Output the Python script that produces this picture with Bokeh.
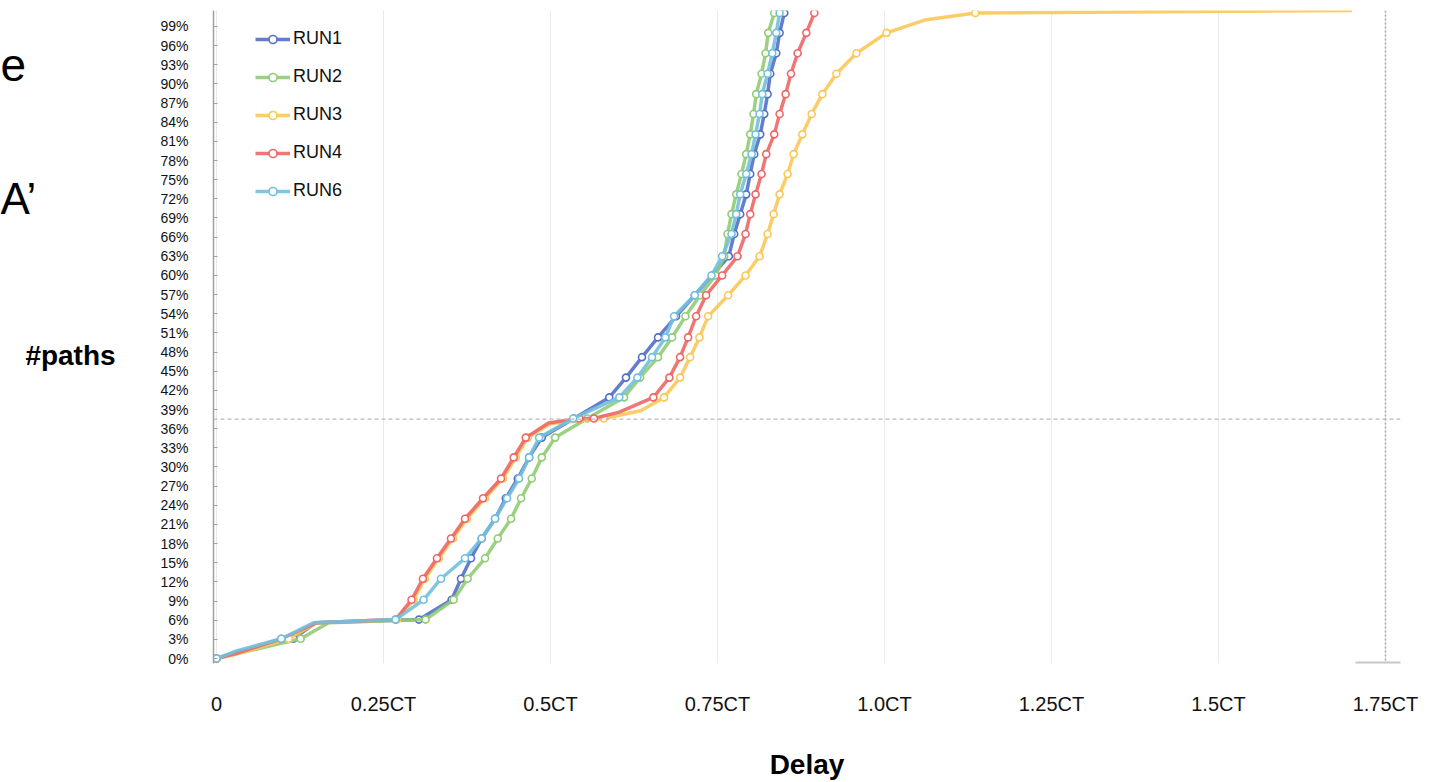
from bokeh.plotting import figure
from bokeh.layouts import row
from bokeh.models import (FixedTicker, PrintfTickFormatter, Legend, LegendItem, Span,
                          BoxAnnotation, ColumnDataSource, Range1d)
from bokeh.core.properties import value
from bokeh.embed import file_html
from bokeh.resources import INLINE

# ---------------- data ----------------
# marker levels on the y axis (percent of paths)
LEVELS = [0, 3.1, 6.1, 9.2, 12.5, 15.7, 18.8, 21.9, 25.1, 28.2, 31.5, 34.6, 37.6,
          40.9, 44.0, 47.2, 50.3, 53.6, 56.9, 60.0, 63.0, 66.5, 69.6, 72.7, 75.9,
          79.0, 82.1, 85.3, 88.4, 91.6, 94.8, 98.0, 101.1]

RUN1_X = [0, 0.03, 0.115, 0.148, 0.303, 0.352, 0.366, 0.381, 0.397, 0.417, 0.433, 0.451,
          0.468, 0.487, 0.535, 0.588, 0.613, 0.637, 0.661, 0.688, 0.716, 0.742, 0.767,
          0.775, 0.784, 0.793, 0.799, 0.805, 0.814, 0.820, 0.825, 0.829, 0.838, 0.843, 0.850]
RUN1_Y = [0, 1.0, 3.1, 5.6, 6.1, 9.2, 12.5, 15.7, 18.8, 21.9, 25.1, 28.2,
          31.5, 34.6, 37.6, 40.9, 44.0, 47.2, 50.3, 53.6, 56.9, 60.0, 63.0,
          66.5, 69.6, 72.7, 75.9, 79.0, 82.1, 85.3, 88.4, 91.6, 94.8, 98.0, 101.1]

RUN2_X = [0, 0.04, 0.126, 0.168, 0.313, 0.355, 0.376, 0.402, 0.421, 0.441, 0.456, 0.472,
          0.487, 0.507, 0.555, 0.610, 0.634, 0.661, 0.682, 0.702, 0.724, 0.747, 0.760,
          0.765, 0.771, 0.778, 0.786, 0.793, 0.799, 0.804, 0.808, 0.816, 0.822, 0.826, 0.835]
RUN2_Y = [0, 1.0, 3.1, 5.6, 6.1, 9.2, 12.5, 15.7, 18.8, 21.9, 25.1, 28.2,
          31.5, 34.6, 37.6, 40.9, 44.0, 47.2, 50.3, 53.6, 56.9, 60.0, 63.0,
          66.5, 69.6, 72.7, 75.9, 79.0, 82.1, 85.3, 88.4, 91.6, 94.8, 98.0, 101.1]

RUN3_X = [0, 0.03, 0.108, 0.15, 0.27, 0.295, 0.312, 0.333, 0.354, 0.375, 0.402, 0.429,
          0.448, 0.466, 0.50, 0.580, 0.635, 0.670, 0.694, 0.709, 0.723, 0.736, 0.766,
          0.792, 0.813, 0.825, 0.834, 0.843, 0.855, 0.864, 0.877, 0.891, 0.907, 0.928,
          0.958, 1.003, 1.06, 1.136, 1.70]
RUN3_Y = [0, 0.7, 3.1, 5.6, 6.1, 9.2, 12.5, 15.7, 18.8, 21.9, 25.1, 28.2,
          31.5, 34.6, 36.8, 37.6, 38.8, 40.9, 44.0, 47.2, 50.3, 53.6, 56.9,
          60.0, 63.0, 66.5, 69.6, 72.7, 75.9, 79.0, 82.1, 85.3, 88.4, 91.6,
          94.8, 98.0, 100.0, 101.1, 101.5]

RUN4_X = [0, 0.03, 0.097, 0.15, 0.268, 0.292, 0.309, 0.330, 0.351, 0.372, 0.399, 0.426,
          0.445, 0.463, 0.497, 0.543, 0.565, 0.603, 0.654, 0.678, 0.694, 0.706, 0.718,
          0.733, 0.757, 0.780, 0.792, 0.799, 0.807, 0.816, 0.823, 0.835, 0.843, 0.852,
          0.860, 0.870, 0.883, 0.895]
RUN4_Y = [0, 0.8, 3.1, 5.6, 6.1, 9.2, 12.5, 15.7, 18.8, 21.9, 25.1, 28.2,
          31.5, 34.6, 36.9, 37.6, 37.6, 38.6, 40.9, 44.0, 47.2, 50.3, 53.6,
          56.9, 60.0, 63.0, 66.5, 69.6, 72.7, 75.9, 79.0, 82.1, 85.3, 88.4,
          91.6, 94.8, 98.0, 101.1]

RUN6_X = [0, 0.03, 0.097, 0.145, 0.268, 0.310, 0.336, 0.372, 0.397, 0.417, 0.435, 0.453,
          0.468, 0.483, 0.534, 0.603, 0.630, 0.652, 0.672, 0.685, 0.716, 0.741, 0.757,
          0.771, 0.778, 0.784, 0.793, 0.801, 0.807, 0.813, 0.817, 0.825, 0.832, 0.838, 0.843]
RUN6_Y = [0, 1.2, 3.1, 5.6, 6.1, 9.2, 12.5, 15.7, 18.8, 21.9, 25.1, 28.2,
          31.5, 34.6, 37.6, 40.9, 44.0, 47.2, 50.3, 53.6, 56.9, 60.0, 63.0,
          66.5, 69.6, 72.7, 75.9, 79.0, 82.1, 85.3, 88.4, 91.6, 94.8, 98.0, 101.1]

SERIES = ["RUN1", "RUN2", "RUN3", "RUN4", "RUN6"]
COLORS = ["#5470c6", "#91cc75", "#fac858", "#ee6666", "#73c0de"]

X_TICKS = [0, 0.25, 0.5, 0.75, 1.0, 1.25, 1.5, 1.75]
X_TICK_LABELS = ["0", "0.25CT", "0.5CT", "0.75CT", "1.0CT", "1.25CT", "1.5CT", "1.75CT"]
Y_TICKS = list(range(0, 100, 3))

X_TITLE = "Delay"
Y_TITLE = "#paths"
SLIDE_TEXT_1 = "e"
SLIDE_TEXT_2 = "A\u2019"

CURSOR_X = 1.75
CURSOR_Y = 37.5

DATA = {"RUN1": (RUN1_X, RUN1_Y), "RUN2": (RUN2_X, RUN2_Y), "RUN3": (RUN3_X, RUN3_Y),
        "RUN4": (RUN4_X, RUN4_Y), "RUN6": (RUN6_X, RUN6_Y)}

FONT = "Liberation Sans"
H = 782
LEFT_W = 150
FRAME_TOP = 10
FRAME_BOTTOM = 663

# ---------------- left strip: y title and stray slide text ----------------
# (its frame is aligned with the main chart's frame by the row layout;
#  the range is chosen so that its units are page pixels from the top)
side = figure(width=LEFT_W, height=H, output_backend="svg", toolbar_location=None,
              title=None, x_range=Range1d(0, LEFT_W),
              y_range=Range1d(FRAME_BOTTOM, FRAME_TOP),
              min_border_left=0, min_border_right=0, min_border_top=FRAME_TOP,
              min_border_bottom=H - FRAME_BOTTOM, x_axis_type=None, y_axis_type=None)
side.grid.visible = False
side.outline_line_color = None
side.text(x=[0], y=[64], text=[SLIDE_TEXT_1], text_font=value(FONT),
          text_font_size="46px", text_align="left", text_baseline="middle",
          text_color="#000000")
side.text(x=[0], y=[198], text=[SLIDE_TEXT_2], text_font=value(FONT),
          text_font_size="44px", text_align="left", text_baseline="middle",
          text_color="#000000")
side.text(x=[70], y=[355], text=[Y_TITLE], text_font=value(FONT),
          text_font_style="bold", text_font_size="28px", text_align="center",
          text_baseline="middle", text_color="#000000")

# ---------------- main chart ----------------
p = figure(width=1453 - LEFT_W, height=H, output_backend="svg", toolbar_location=None,
           x_range=Range1d(-0.0045, 1.7725), y_range=Range1d(-0.78, 101.5),
           min_border_left=213 - LEFT_W, min_border_right=53, min_border_top=FRAME_TOP,
           min_border_bottom=H - FRAME_BOTTOM)
p.outline_line_color = None
p.background_fill_color = "white"
p.border_fill_color = "white"

xa = p.xaxis[0]
xa.ticker = FixedTicker(ticks=X_TICKS)
xa.major_label_overrides = {t: l for t, l in zip(X_TICKS, X_TICK_LABELS)}
xa.axis_line_color = None
xa.major_tick_line_color = None
xa.minor_tick_line_color = None
xa.major_label_text_font = FONT
xa.major_label_text_font_size = "20px"
xa.major_label_text_color = "#111111"
xa.major_label_standoff = 23
xa.axis_label = X_TITLE
xa.axis_label_text_font = FONT
xa.axis_label_text_font_style = "bold"
xa.axis_label_text_font_size = "28px"
xa.axis_label_text_color = "#000000"
xa.axis_label_standoff = 31

ya = p.yaxis[0]
ya.ticker = FixedTicker(ticks=Y_TICKS)
ya.formatter = PrintfTickFormatter(format="%d%%")
ya.axis_line_color = "#a0a0a0"
ya.axis_line_width = 1.5
ya.major_tick_line_color = "#a0a0a0"
ya.major_tick_in = 4
ya.major_tick_out = 0
ya.minor_tick_line_color = None
ya.major_label_text_font = FONT
ya.major_label_text_font_size = "14px"
ya.major_label_text_color = "#111111"
ya.major_label_standoff = 25

p.xgrid.grid_line_color = "#e9e9e9"
p.xgrid.grid_line_width = 1
p.ygrid.grid_line_color = None

# cursor cross lines
p.add_layout(Span(location=CURSOR_Y, dimension="width", line_color="#bbbbbb",
                  line_dash="4 3", line_width=1.3))
p.add_layout(Span(location=CURSOR_X, dimension="height", line_color="#aaaaaa",
                  line_dash="2 2", line_width=1.5))

items = []
for name, color in zip(SERIES, COLORS):
    xs, ys = DATA[name]
    src = ColumnDataSource(dict(x=xs, y=ys))
    mx = [x for x, y in zip(xs, ys) if y in LEVELS]
    my = [y for y in ys if y in LEVELS]
    msrc = ColumnDataSource(dict(x=mx, y=my))
    lr = p.line("x", "y", source=src, line_color=color, line_width=3.5, line_alpha=0.9)
    sr = p.scatter("x", "y", source=msrc, marker="circle", size=7, fill_color="white",
                   line_color=color, line_width=1.6)
    items.append(LegendItem(label=name, renderers=[lr, sr]))

legend = Legend(items=items, location=(42, 462), orientation="vertical",
                glyph_width=35, glyph_height=20, label_height=20, spacing=17,
                padding=0, margin=0, border_line_color=None, background_fill_alpha=0,
                label_text_font=FONT, label_text_font_size="18px",
                label_text_color="#111111", label_standoff=3)
p.add_layout(legend)

# dataZoom handle at bottom right (decoration)
p.add_layout(BoxAnnotation(left=1142, right=1192, bottom=-4, top=2,
                           left_units="screen", right_units="screen",
                           bottom_units="screen", top_units="screen",
                           fill_color="#c8c8c8", fill_alpha=1, line_color=None))

layout = row(side, p, spacing=0)
open("out.html", "w").write(file_html(layout, INLINE))
